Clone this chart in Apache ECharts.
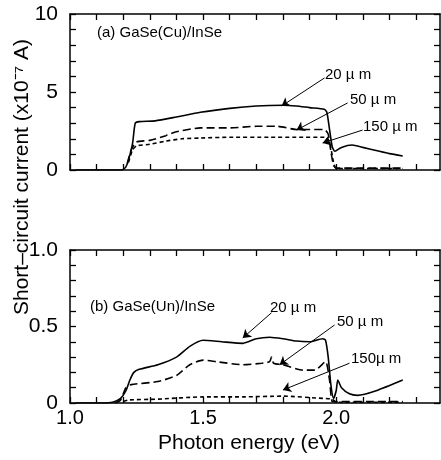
<!DOCTYPE html>
<html>
<head>
  <meta charset="utf-8">
  <title>Short-circuit current spectra</title>
  <script src="https://cdn.jsdelivr.net/npm/echarts@6/dist/echarts.min.js"></script>
</head>
<body style="margin:0">
  <div id="main" style="width:441px;height:460px"></div>
  <script type="text/javascript">
    // (a) GaSe(Cu)/InSe, current in units of 1e-7 A
    var eA20 = [1.02, 1.18, 1.195, 1.21, 1.22, 1.235, 1.245, 1.26, 1.32, 1.40, 1.49, 1.60, 1.70, 1.80, 1.85, 1.90, 1.955, 1.965, 1.975, 1.985, 1.995, 2.02, 2.06, 2.10, 2.15, 2.20, 2.25];
    var iA20 = [0, 0, 0, 0.2, 0.65, 1.7, 3.0, 3.1, 3.15, 3.4, 3.7, 3.95, 4.1, 4.15, 4.1, 4.0, 3.9, 3.7, 2.6, 1.5, 1.2, 1.45, 1.6, 1.45, 1.25, 1.05, 0.9];
    var eA50 = [1.215, 1.23, 1.25, 1.30, 1.36, 1.40, 1.49, 1.60, 1.70, 1.78, 1.85, 1.90, 1.955, 1.97, 1.98, 1.99, 2.0, 2.10, 2.25];
    var iA50 = [0.4, 1.3, 1.8, 1.9, 2.2, 2.45, 2.7, 2.7, 2.8, 2.8, 2.6, 2.6, 2.6, 2.3, 1.2, 0.3, 0.12, 0.12, 0.12];
    var eA150 = [1.22, 1.235, 1.25, 1.30, 1.36, 1.42, 1.49, 1.60, 1.75, 1.85, 1.96, 1.975, 1.99, 2.0, 2.10, 2.25];
    var iA150 = [0.5, 1.3, 1.55, 1.65, 1.85, 2.0, 2.05, 2.1, 2.1, 2.1, 2.1, 1.8, 0.5, 0.1, 0.1, 0.1];

    // (b) GaSe(Un)/InSe
    var eB20 = [1.02, 1.12, 1.16, 1.19, 1.21, 1.225, 1.24, 1.26, 1.33, 1.40, 1.45, 1.50, 1.57, 1.65, 1.70, 1.75, 1.80, 1.85, 1.90, 1.95, 1.96, 1.97, 1.98, 1.99, 2.0, 2.006, 2.02, 2.05, 2.08, 2.15, 2.25];
    var iB20 = [0, 0, 0.005, 0.03, 0.08, 0.15, 0.2, 0.22, 0.25, 0.30, 0.37, 0.41, 0.40, 0.39, 0.42, 0.43, 0.42, 0.405, 0.40, 0.42, 0.41, 0.3, 0.12, 0.03, 0.08, 0.15, 0.1, 0.06, 0.05, 0.08, 0.15];
    var eB50 = [1.17, 1.19, 1.21, 1.23, 1.33, 1.40, 1.45, 1.50, 1.55, 1.65, 1.72, 1.75, 1.757, 1.765, 1.80, 1.875, 1.92, 1.96, 1.975, 1.985, 2.0, 2.25];
    var iB50 = [0, 0.02, 0.1, 0.12, 0.14, 0.18, 0.25, 0.28, 0.27, 0.25, 0.26, 0.27, 0.3, 0.26, 0.25, 0.215, 0.215, 0.27, 0.15, 0.01, 0.01, 0.01];
    var eB150 = [1.2, 1.22, 1.33, 1.50, 1.65, 1.80, 1.95, 1.985, 2.0, 2.25];
    var iB150 = [0.01, 0.02, 0.025, 0.04, 0.04, 0.045, 0.03, 0.025, 0.005, 0.005];

    // ticks and labelled values
    var xTicks = [1.0, 1.1, 1.2, 1.3, 1.4, 1.5, 1.6, 1.7, 1.8, 1.9, 2.0, 2.1, 2.2, 2.3];
    var xLabels = [1.0, 1.5, 2.0];
    var yTicksA = [0, 1, 2, 3, 4, 5, 6, 7, 8, 9, 10];
    var yLabelsA = [0, 5, 10];
    var yTicksB = [0, 0.1, 0.2, 0.3, 0.4, 0.5, 0.6, 0.7, 0.8, 0.9, 1.0];
    var yLabelsB = [0, 0.5, 1.0];

    // arrow annotations, [from, to] in data units
    var arrowsA = [[[1.956, 5.9], [1.795, 4.1]], [[2.043, 4.3], [1.851, 2.56]], [[2.099, 2.56], [1.949, 1.73]]];
    var arrowsB = [[[1.757, 0.59], [1.649, 0.425]], [[1.994, 0.51], [1.7875, 0.25]], [[2.05, 0.26], [1.80, 0.085]]];

    var xMin = 1.0, xMax = 2.39;
    var FONT = '"Liberation Sans", Arial, Helvetica, sans-serif';

    var myChart = echarts.init(document.getElementById('main'));

    function pairs(xs, ys) {
      return xs.map(function (x, i) { return [x, ys[i]]; });
    }

    function axisFor(grid, pos, min, max, ticks, labels, fontSize, margin, fmt) {
      return {
        type: 'value', gridIndex: grid, position: pos,
        min: min, max: max,
        axisLine: { show: true, onZero: false, lineStyle: { color: '#000', width: 1.5 } },
        axisTick: { show: true, inside: true, length: 6, customValues: ticks, lineStyle: { color: '#000', width: 1.3 } },
        axisLabel: labels
          ? { show: true, customValues: labels, color: '#000', fontSize: fontSize, fontFamily: FONT, margin: margin, formatter: fmt }
          : { show: false },
        splitLine: { show: false }
      };
    }

    function fmtX(v) { return v.toFixed(1); }
    function fmtB(v) { return v === 0 ? '0' : v.toFixed(1); }

    function arrowLine(list) {
      return {
        silent: true, animation: false,
        symbol: ['none', 'arrow'], symbolSize: 8,
        label: { show: false },
        lineStyle: { color: '#000', width: 1, type: 'solid' },
        data: list.map(function (a) { return [{ coord: a[0] }, { coord: a[1] }]; })
      };
    }

    function curve(xi, yi, data, dash, marks) {
      var s = {
        type: 'line', xAxisIndex: xi, yAxisIndex: yi,
        data: data, showSymbol: false, symbol: 'none', smooth: 0.2,
        lineStyle: { color: '#000', width: 1.6, type: dash }
      };
      if (marks) s.markLine = arrowLine(marks);
      return s;
    }

    var option = {
      animation: false,
      grid: [
        { left: 70, right: 1, top: 14, height: 156 },
        { left: 70, right: 1, top: 250, height: 153 }
      ],
      xAxis: [
        axisFor(0, 'bottom', xMin, xMax, xTicks, null),
        axisFor(0, 'top', xMin, xMax, xTicks, null),
        axisFor(1, 'bottom', xMin, xMax, xTicks, xLabels, 20, 5, fmtX),
        axisFor(1, 'top', xMin, xMax, xTicks, null)
      ],
      yAxis: [
        axisFor(0, 'left', 0, 10, yTicksA, yLabelsA, 21, 12, function (v) { return String(v); }),
        axisFor(0, 'right', 0, 10, yTicksA, null),
        axisFor(1, 'left', 0, 1, yTicksB, yLabelsB, 21, 12, fmtB),
        axisFor(1, 'right', 0, 1, yTicksB, null)
      ],
      series: [
        curve(0, 0, pairs(eA20, iA20), 'solid', arrowsA),
        curve(0, 0, pairs(eA50, iA50), [8, 4]),
        curve(0, 0, pairs(eA150, iA150), [4, 3]),
        curve(2, 2, pairs(eB20, iB20), 'solid', arrowsB),
        curve(2, 2, pairs(eB50, iB50), [8, 4]),
        curve(2, 2, pairs(eB150, iB150), [4, 3])
      ],
      graphic: [
        { type: 'text', x: 97, y: 33, style: { text: '(a) GaSe(Cu)/InSe', font: '15px ' + FONT, fill: '#000', verticalAlign: 'middle' } },
        { type: 'text', x: 90, y: 307, style: { text: '(b) GaSe(Un)/InSe', font: '15px ' + FONT, fill: '#000', verticalAlign: 'middle' } },
        { type: 'text', x: 325, y: 75, style: { text: '20 µ m', font: '15px ' + FONT, fill: '#000', verticalAlign: 'middle' } },
        { type: 'text', x: 350, y: 100, style: { text: '50 µ m', font: '15px ' + FONT, fill: '#000', verticalAlign: 'middle' } },
        { type: 'text', x: 363, y: 127, style: { text: '150 µ m', font: '15px ' + FONT, fill: '#000', verticalAlign: 'middle' } },
        { type: 'text', x: 270, y: 308, style: { text: '20 µ m', font: '15px ' + FONT, fill: '#000', verticalAlign: 'middle' } },
        { type: 'text', x: 337, y: 322, style: { text: '50 µ m', font: '15px ' + FONT, fill: '#000', verticalAlign: 'middle' } },
        { type: 'text', x: 351, y: 359, style: { text: '150µ m', font: '15px ' + FONT, fill: '#000', verticalAlign: 'middle' } },
        { type: 'text', x: 22, y: 177, rotation: Math.PI / 2, style: { text: 'Short–circuit current (x10⁻⁷ A)', font: '21px ' + FONT, fill: '#000', align: 'center', verticalAlign: 'middle' } },
        { type: 'text', x: 249, y: 443, style: { text: 'Photon energy (eV)', font: '21px ' + FONT, fill: '#000', align: 'center', verticalAlign: 'middle' } }
      ]
    };

    myChart.setOption(option);
  </script>
</body>
</html>
